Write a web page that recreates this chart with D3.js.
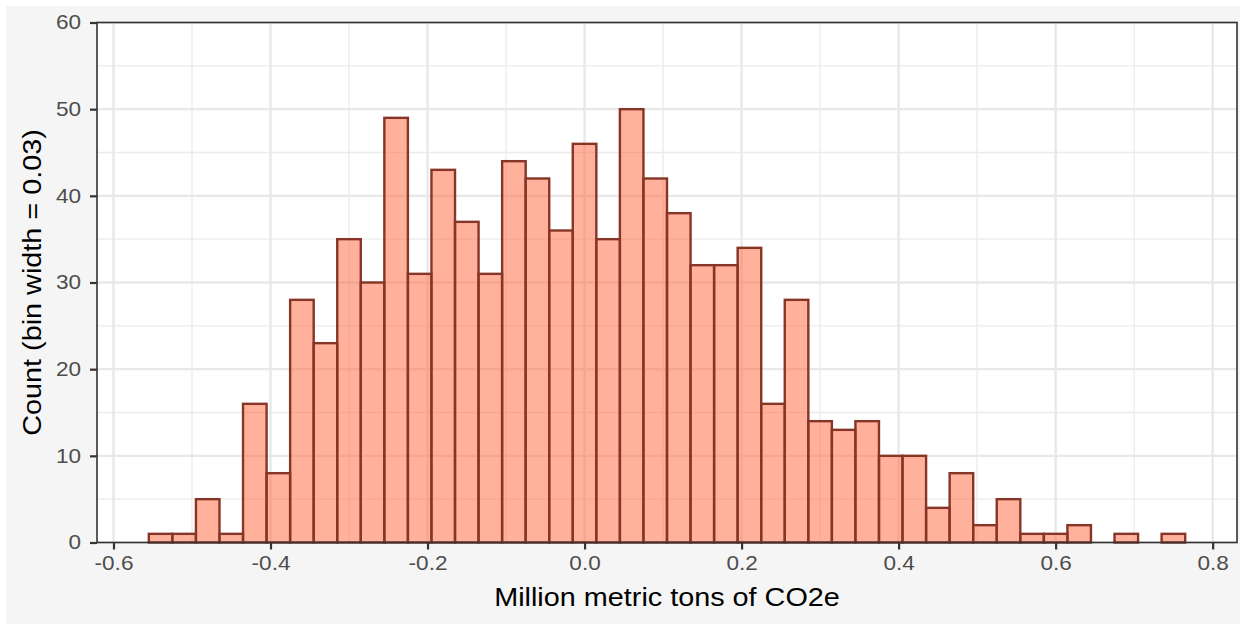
<!doctype html>
<html lang="en">
<head>
<meta charset="UTF-8">
<script src="https://cdnjs.cloudflare.com/ajax/libs/d3/7.0.0/d3.min.js"></script>
<title>Histogram</title>
<style>
  body { margin: 0; background: #fff; }
  text { font-family: "Liberation Sans", Arial, sans-serif; }
</style>
</head>
<body>
<div id="viz_area"></div>
<script>
    // histogram data: bin width 0.03, first bin starts at -0.555
    const binWidth = 0.03;
    const binStart = -0.555;
    const counts = [1, 1, 5, 1, 16, 8, 28, 23, 35, 30, 49, 31, 43, 37, 31, 44, 42, 36, 46, 35,
                    50, 42, 38, 32, 32, 34, 16, 28, 14, 13, 14, 10, 10, 4, 8, 2, 5, 1, 1, 2,
                    0, 1, 0, 1];
    const xTicks = [-0.6, -0.4, -0.2, 0.0, 0.2, 0.4, 0.6, 0.8];
    const xMinor = [-0.5, -0.3, -0.1, 0.1, 0.3, 0.5, 0.7];
    const yTicks = [0, 10, 20, 30, 40, 50, 60];
    const yMinor = [5, 15, 25, 35, 45, 55];

    const W = 1243, H = 624;
    const panel = {left: 97, right: 1237, top: 22.5, bottom: 542.5};
    const stretch = 1.13;   // the text in the original is a bit wide

    const bins = counts.map((c, i) => ({x0: binStart + i * binWidth, x1: binStart + (i + 1) * binWidth, n: c}));
    const dataMin = binStart, dataMax = binStart + counts.length * binWidth;
    const pad = (dataMax - dataMin) * 0.05;

    const x = d3.scaleLinear().domain([dataMin - pad, dataMax + pad]).range([panel.left, panel.right]);
    const y = d3.scaleLinear().domain([0, 60]).range([panel.bottom, panel.top]);

    const svg = d3.select('#viz_area').append('svg')
        .attr('width', W).attr('height', H);

    svg.append('rect').attr('x', 6).attr('y', 6).attr('width', 1234).attr('height', H - 6)
        .attr('fill', '#f5f5f5');
    svg.append('rect')
        .attr('x', panel.left).attr('y', panel.top)
        .attr('width', panel.right - panel.left).attr('height', panel.bottom - panel.top)
        .attr('fill', '#fff');

    const grid = svg.append('g');
    grid.selectAll('.vminor').data(xMinor).join('line')
        .attr('x1', d => x(d)).attr('x2', d => x(d))
        .attr('y1', panel.top).attr('y2', panel.bottom)
        .attr('stroke', '#ebebeb').attr('stroke-width', 1.3);
    grid.selectAll('.hminor').data(yMinor).join('line')
        .attr('y1', d => y(d)).attr('y2', d => y(d))
        .attr('x1', panel.left).attr('x2', panel.right)
        .attr('stroke', '#ebebeb').attr('stroke-width', 1.3);
    grid.selectAll('.vmajor').data(xTicks).join('line')
        .attr('x1', d => x(d)).attr('x2', d => x(d))
        .attr('y1', panel.top).attr('y2', panel.bottom)
        .attr('stroke', '#e8e8e8').attr('stroke-width', 2.4);
    grid.selectAll('.hmajor').data(yTicks).join('line')
        .attr('y1', d => y(d)).attr('y2', d => y(d))
        .attr('x1', panel.left).attr('x2', panel.right)
        .attr('stroke', '#e8e8e8').attr('stroke-width', 2.4);

    // bars
    svg.append('g').selectAll('rect')
        .data(bins.filter(d => d.n > 0))
        .join('rect')
        .attr('x', d => x(d.x0))
        .attr('y', d => y(d.n))
        .attr('width', d => x(d.x1) - x(d.x0))
        .attr('height', d => y(0) - y(d.n))
        .attr('fill', 'rgba(255,100,58,0.5)')
        .attr('stroke', '#873527')
        .attr('stroke-width', 2.4);

    // panel border
    svg.append('rect')
        .attr('x', panel.left).attr('y', panel.top)
        .attr('width', panel.right - panel.left).attr('height', panel.bottom - panel.top)
        .attr('fill', 'none').attr('stroke', '#333').attr('stroke-width', 1.6);

    // axes
    const xAxis = svg.append('g')
        .attr('transform', `translate(0,${panel.bottom})`)
        .call(d3.axisBottom(x).tickValues(xTicks).tickSize(7).tickPadding(6).tickFormat(d3.format('.1f')));
    const yAxis = svg.append('g')
        .attr('transform', `translate(${panel.left},0)`)
        .call(d3.axisLeft(y).tickValues(yTicks).tickSize(7).tickPadding(7));

    [xAxis, yAxis].forEach(a => {
        a.select('.domain').remove();
        a.selectAll('.tick line').attr('stroke', '#333').attr('stroke-width', 2.2);
        a.selectAll('.tick text').attr('fill', '#4d4d4d').style('font-size', '20px')
            .style('font-family', '"Liberation Sans", Arial, sans-serif')
            .attr('transform', `scale(${stretch},1)`);
    });
    xAxis.selectAll('.tick text').text(d => d3.format('.1f')(d).replace('−', '-'));

    const cx = (panel.left + panel.right) / 2;
    svg.append('text')
        .attr('transform', `translate(${cx},606) scale(${stretch},1)`)
        .attr('text-anchor', 'middle').style('font-size', '25.5px').attr('fill', '#000')
        .text('Million metric tons of CO2e');

    svg.append('text')
        .attr('transform', `translate(41,${(panel.top + panel.bottom) / 2}) rotate(-90) scale(${stretch},1)`)
        .attr('text-anchor', 'middle').style('font-size', '25.5px').attr('fill', '#000')
        .text('Count (bin width = 0.03)');
</script>
</body>
</html>
